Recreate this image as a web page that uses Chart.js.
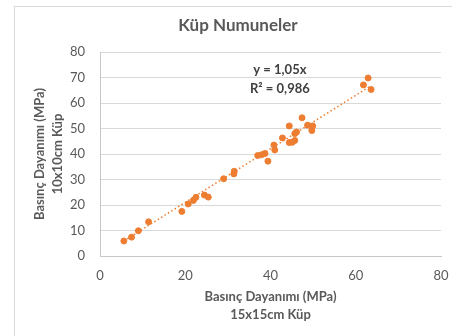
<!DOCTYPE html>
<html><head><meta charset="utf-8">
<script src="https://cdn.jsdelivr.net/npm/chart.js@4/dist/chart.umd.min.js"></script>
<style>html,body{margin:0;padding:0;background:#fff;} #wrap{width:452px;height:336px;position:relative;}</style>
</head><body><div id="wrap"><canvas id="c" width="452" height="336"></canvas></div>
<script>
const xValues = [5.6, 7.4, 9.0, 11.4, 19.2, 20.7, 21.9, 22.5, 24.5, 25.4, 29.0, 31.4, 31.5, 37.0, 37.9, 38.7, 39.4, 40.8, 41.0, 42.8, 44.4, 44.4, 45.1, 45.7, 45.7, 46.1, 47.4, 48.7, 49.7, 49.9, 61.8, 62.9, 63.6];
const yValues = [5.9, 7.4, 9.9, 13.4, 17.5, 20.4, 21.8, 23.0, 23.9, 23.1, 30.3, 32.2, 33.2, 39.4, 39.7, 40.2, 37.2, 43.5, 41.6, 46.3, 51.0, 44.5, 44.6, 45.3, 48.0, 48.6, 54.2, 51.3, 49.2, 51.0, 67.1, 69.8, 65.3];
const trendX = [5.6, 63.6];
const trendY = [5.9, 66.8];
const xTicks = [0, 20, 40, 60, 80];
const yTicks = [0, 10, 20, 30, 40, 50, 60, 70, 80];
const titleText = 'Küp Numuneler';
const xTitle = ['Basınç Dayanımı (MPa)', '15x15cm Küp'];
const yTitle = ['Basınç Dayanımı (MPa)', '10x10cm Küp'];
const eqLines = ['y = 1,05x', 'R² = 0,986'];
const eqPos = {x: 42.2, y: [73, 65.5]};

const FONT = 'Lato, "Liberation Sans", sans-serif';
const orange = '#ED7D31';

const pts = xValues.map((x, i) => ({x, y: yValues[i]}));
const trend = trendX.map((x, i) => ({x, y: trendY[i]}));

const frame = {
  id: 'frame',
  beforeDraw(chart) {
    const ctx = chart.ctx;
    ctx.save();
    ctx.strokeStyle = '#d9d9d9';
    ctx.lineWidth = 1;
    ctx.strokeRect(14.5, 6.5, 600, 500);
    ctx.font = 'bold 17px ' + FONT;
    ctx.fillStyle = '#595959';
    ctx.textAlign = 'center';
    ctx.textBaseline = 'middle';
    ctx.fillText(titleText, 238, 26);
    ctx.restore();
  }
};
const eqPlugin = {
  id: 'eq',
  afterDatasetsDraw(chart) {
    const ctx = chart.ctx;
    const xs = chart.scales.x, ys = chart.scales.y;
    ctx.save();
    ctx.font = 'bold 13px ' + FONT;
    ctx.fillStyle = '#404040';
    ctx.textAlign = 'center';
    ctx.textBaseline = 'middle';
    eqLines.forEach((t, i) => ctx.fillText(t, xs.getPixelForValue(eqPos.x), ys.getPixelForValue(eqPos.y[i])));
    ctx.restore();
  }
};

new Chart(document.getElementById('c'), {
  type: 'scatter',
  data: {
    datasets: [
      {data: pts, backgroundColor: orange, borderColor: orange, pointRadius: 3, pointHoverRadius: 3, order: 1},
      {type: 'line', data: trend, borderColor: orange, borderWidth: 1.5, borderDash: [1.5, 2.5], pointRadius: 0, fill: false, order: 2}
    ]
  },
  options: {
    responsive: false,
    animation: false,
    layout: {padding: {left: 0, right: 11, top: 52, bottom: 0}},
    plugins: {
      legend: {display: false},
      tooltip: {enabled: false},
      title: {display: false}
    },
    scales: {
      x: {
        type: 'linear', min: 0, max: 80,
        afterBuildTicks: s => { s.ticks = xTicks.map(v => ({value: v})); },
        afterFit: s => { s.height = 80; s.paddingRight = 8; s.paddingLeft = 8; },
        grid: {display: false, drawTicks: false},
        border: {display: true, color: '#c8c8c8', width: 1},
        ticks: {color: '#595959', font: {family: FONT, size: 13}, padding: 12},
        title: {display: true, text: xTitle, color: '#595959', font: {family: FONT, size: 13, weight: 'bold', lineHeight: 18/13}, padding: {top: 0, bottom: 12}}
      },
      y: {
        type: 'linear', min: 0, max: 80,
        afterBuildTicks: s => { s.ticks = yTicks.map(v => ({value: v})); },
        afterFit: s => { s.width = 100; },
        grid: {color: '#d9d9d9', drawTicks: false},
        border: {display: true, color: '#c8c8c8', width: 1},
        ticks: {color: '#595959', font: {family: FONT, size: 13}, padding: 15},
        title: {display: true, text: yTitle, color: '#595959', font: {family: FONT, size: 13, weight: 'bold', lineHeight: 18/13}, padding: {top: 31, bottom: 0}}
      }
    }
  },
  plugins: [frame, eqPlugin]
});
</script></body></html>
